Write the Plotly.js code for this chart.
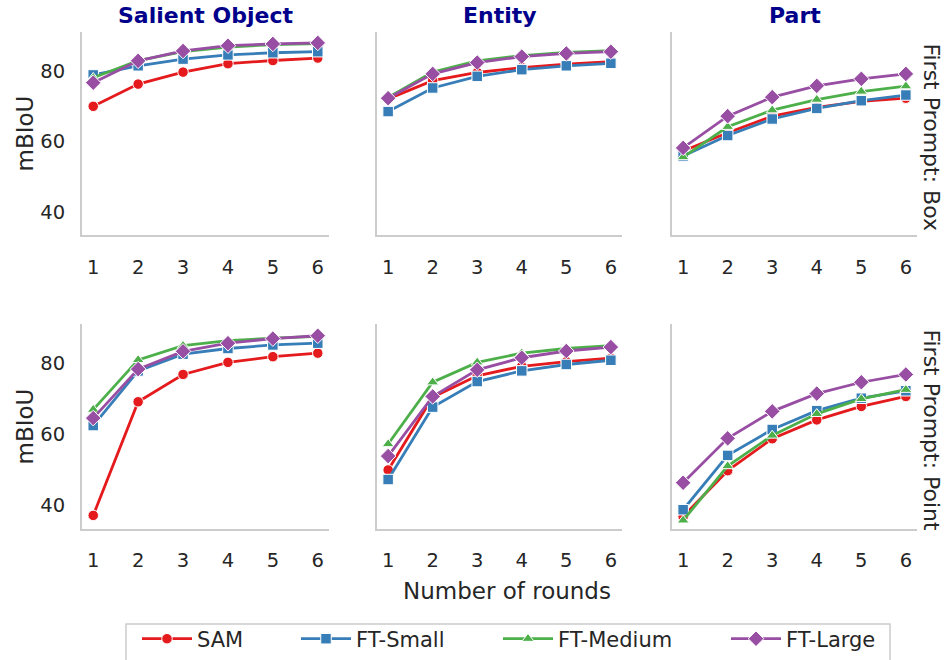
<!DOCTYPE html>
<html>
<head>
<meta charset="utf-8">
<script src="https://cdn.plot.ly/plotly-3.0.1.min.js"></script>
<style>html,body{margin:0;padding:0;background:#fff;}#chart{width:947px;height:660px;}</style>
</head>
<body>
<div id="chart"></div>
<script>
// ---- data ----
const rounds = [1, 2, 3, 4, 5, 6];
const methods = ['SAM', 'FT-Small', 'FT-Medium', 'FT-Large'];
const columnTitles = ['Salient Object', 'Entity', 'Part'];
const rowTitles = ['First Prompt: Box', 'First Prompt: Point'];
const yTickVals = [40, 60, 80];

// rows: SAM, FT-Small, FT-Medium, FT-Large
const salientBox = [
  [69.9, 76.2, 79.6, 82.0, 82.9, 83.6],
  [78.8, 81.4, 83.3, 84.5, 85.1, 85.4],
  [78.0, 82.9, 85.4, 86.7, 87.4, 87.7],
  [76.6, 82.8, 85.6, 87.1, 87.6, 87.9]
];
const entityBox = [
  [72.0, 77.2, 79.5, 80.9, 81.9, 82.6],
  [68.4, 75.1, 78.4, 80.3, 81.4, 82.1],
  [72.4, 79.6, 82.8, 84.3, 85.2, 85.7],
  [72.2, 79.1, 82.3, 84.0, 84.9, 85.4]
];
const partBox = [
  [57.2, 62.4, 67.1, 69.6, 71.3, 72.2],
  [55.8, 61.6, 66.3, 69.3, 71.5, 73.1],
  [55.5, 64.1, 68.8, 71.8, 74.1, 75.6],
  [58.1, 67.1, 72.5, 75.7, 77.7, 79.1]
];
const salientPoint = [
  [37.1, 69.1, 76.8, 80.2, 81.8, 82.8],
  [62.4, 77.8, 82.5, 84.1, 85.1, 85.6],
  [66.9, 80.9, 84.9, 86.3, 87.0, 87.5],
  [64.5, 78.3, 83.3, 85.6, 86.9, 87.7]
];
const entityPoint = [
  [49.9, 70.4, 76.4, 79.1, 80.4, 81.4],
  [47.2, 67.6, 74.8, 77.8, 79.6, 80.8],
  [57.2, 74.6, 80.2, 82.8, 84.1, 84.9],
  [53.8, 70.6, 78.1, 81.5, 83.4, 84.5]
];
const partPoint = [
  [36.8, 49.7, 58.7, 64.0, 67.8, 70.6],
  [38.7, 54.0, 61.3, 66.6, 70.1, 72.2],
  [35.7, 51.0, 59.6, 65.7, 69.9, 72.5],
  [46.3, 58.8, 66.4, 71.4, 74.6, 76.8]
];

// ---- styles ----
const colors = ['#e41a1c', '#377eb8', '#4daf4a', '#984ea3'];
const symbols = ['circle', 'square', 'triangle-up', 'diamond'];
const msizes = [10.5, 10.5, 10.5, 12];
const panels = [salientBox, entityBox, partBox, salientPoint, entityPoint, partPoint];
const W = 947, H = 660;
const xDom = [[82, 329], [377, 622], [672, 917]];
const yDom = [[31.7, 236], [325, 530.5]];
const FONT = 'DejaVu Sans, sans-serif';
const TXT = '#262626';

const traces = [];
panels.forEach((panel, p) => {
  const ax = p === 0 ? '' : String(p + 1);
  panel.forEach((vals, m) => {
    traces.push({
      x: rounds, y: vals, type: 'scatter', mode: 'lines+markers',
      name: methods[m],
      xaxis: 'x' + ax, yaxis: 'y' + ax,
      line: {color: colors[m], width: 2.8},
      marker: {symbol: symbols[m], size: msizes[m], color: colors[m], line: {color: '#ffffff', width: 1}},
      showlegend: p === 0,
      legend: m === 0 ? 'legend' : 'legend' + (m + 1),
      hoverinfo: 'x+y+name'
    });
  });
});

const layout = {
  width: W, height: H,
  margin: {l: 0, r: 0, t: 0, b: 0},
  paper_bgcolor: '#ffffff', plot_bgcolor: '#ffffff',
  font: {family: FONT, color: TXT, size: 19},
  annotations: [], shapes: []
};

for (let p = 0; p < 6; p++) {
  const r = Math.floor(p / 3), c = p % 3;
  const ax = p === 0 ? '' : String(p + 1);
  layout['xaxis' + ax] = {
    domain: [xDom[c][0] / W, xDom[c][1] / W],
    range: [0.75, 6.25], tickvals: rounds, ticktext: rounds.map(String),
    showline: true, linecolor: '#cccccc', linewidth: 2,
    showgrid: false, zeroline: false, ticks: 'outside', ticklen: 13, tickcolor: 'rgba(0,0,0,0)',
    tickfont: {family: FONT, size: 19.5, color: TXT},
    anchor: 'y' + ax, fixedrange: true
  };
  layout['yaxis' + ax] = {
    domain: [1 - yDom[r][1] / H, 1 - yDom[r][0] / H],
    range: r === 0 ? [33.3, 91.1] : [33.3, 91.0],
    tickvals: yTickVals,
    showticklabels: c === 0,
    showline: true, linecolor: '#cccccc', linewidth: 2,
    showgrid: false, zeroline: false, ticks: 'outside', ticklen: 11, tickcolor: 'rgba(0,0,0,0)',
    tickfont: {family: FONT, size: 19.5, color: TXT},
    anchor: 'x' + ax, fixedrange: true
  };
}

// y titles
yDom.forEach((d) => {
  layout.annotations.push({
    text: 'mBIoU', xref: 'paper', yref: 'paper',
    x: 25 / W, y: 1 - ((d[0] + d[1]) / 2) / H,
    xanchor: 'center', yanchor: 'middle', showarrow: false, textangle: -90,
    font: {family: FONT, size: 23, color: TXT}
  });
});
// column titles
columnTitles.forEach((t, c) => {
  layout.annotations.push({
    text: '<b>' + t + '</b>', xref: 'paper', yref: 'paper',
    x: (xDom[c][0] + xDom[c][1]) / 2 / W, y: 1 - 16 / H,
    xanchor: 'center', yanchor: 'middle', showarrow: false,
    font: {family: FONT, size: 22, color: '#00008b'}
  });
});
// row titles
rowTitles.forEach((t, r) => {
  layout.annotations.push({
    text: t, xref: 'paper', yref: 'paper',
    x: 932 / W, y: 1 - ((yDom[r][0] + yDom[r][1]) / 2 + 4) / H,
    xanchor: 'center', yanchor: 'middle', showarrow: false, textangle: 90,
    font: {family: FONT, size: 22, color: TXT}
  });
});
// x title
layout.annotations.push({
  text: 'Number of rounds', xref: 'paper', yref: 'paper',
  x: 507 / W, y: 1 - 593 / H, xanchor: 'center', yanchor: 'middle', showarrow: false,
  font: {family: FONT, size: 23, color: TXT}
});

// legends
const legX = [137, 296, 498, 726];
legX.forEach((lx, i) => {
  const key = i === 0 ? 'legend' : 'legend' + (i + 1);
  layout[key] = {
    orientation: 'h', x: lx / W, xanchor: 'left', y: 1 - 641 / H, yanchor: 'middle',
    bgcolor: 'rgba(0,0,0,0)', borderwidth: 0, itemwidth: 50,
    font: {family: FONT, size: 21, color: TXT}, itemclick: false, itemdoubleclick: false
  };
});
layout.shapes.push({
  type: 'rect', xref: 'paper', yref: 'paper',
  x0: 126 / W, x1: 890 / W, y0: -0.02, y1: 1 - 626 / H,
  line: {color: '#cccccc', width: 1.5}, fillcolor: 'rgba(0,0,0,0)', layer: 'below'
});

Plotly.newPlot('chart', traces, layout, {displayModeBar: false, staticPlot: true});
</script>
</body>
</html>
